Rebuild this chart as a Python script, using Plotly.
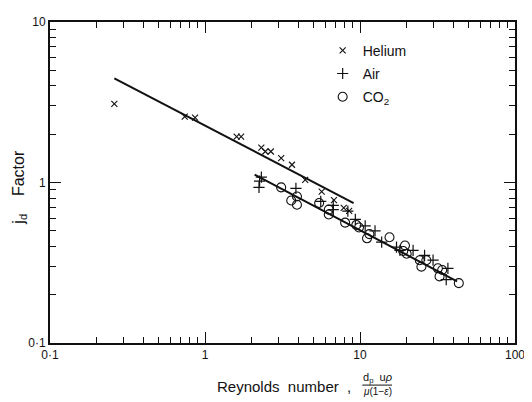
import plotly.graph_objects as go

# ---------------- data ----------------
re_helium = [0.26, 0.74, 0.863, 1.60, 1.71, 2.31, 2.45, 2.66, 3.10, 3.64, 4.43, 5.66, 6.79, 7.85, 8.51]
jd_helium = [3.09, 2.57, 2.54, 1.93, 1.93, 1.65, 1.56, 1.56, 1.42, 1.29, 1.04, 0.878, 0.777, 0.694, 0.666]

re_air = [2.31, 2.25, 2.23, 3.86, 5.58, 6.72, 6.72, 8.35, 9.33, 10.8, 12.5, 13.8, 17.2, 18.1, 22.0, 26.1, 29.6, 36.9, 36.0]
jd_air = [1.08, 1.02, 0.932, 0.919, 0.763, 0.721, 0.678, 0.663, 0.589, 0.537, 0.50, 0.425, 0.396, 0.378, 0.378, 0.352, 0.328, 0.292, 0.248]

re_co2 = [3.10, 3.60, 3.92, 3.92, 5.45, 6.29, 6.29, 8.02, 9.47, 9.85, 11.5, 11.1, 15.5, 19.5, 19.0, 20.0, 24.3, 26.8, 24.9, 31.8, 33.9, 32.6, 43.4]
jd_co2 = [0.932, 0.773, 0.818, 0.727, 0.745, 0.678, 0.632, 0.562, 0.544, 0.524, 0.477, 0.449, 0.456, 0.405, 0.374, 0.360, 0.328, 0.328, 0.299, 0.292, 0.285, 0.260, 0.236]

# fitted lines (end points)
re_line_he = [0.26, 9.1]
jd_line_he = [4.45, 0.745]
re_line_gas = [2.09, 42.3]
jd_line_gas = [1.12, 0.242]

x_tickvals = [0.1, 1, 10, 100]
x_ticktext = ["0·1", "1", "10", "100"]
y_tickvals = [0.1, 1, 10]
y_ticktext = ["0·1", "1", "10"]
minor_vals = [m * d for d in (0.1, 1, 10) for m in range(2, 10)]

FONT = "Liberation Sans"
INK = "#111111"

# the page has an 8px body margin, so the figure is 8px smaller each way
W, H = 524, 394
PL, PR, PT, PB = 50, 519, 15, 343          # plot box in screen pixels
OFF = 8


def px(xs):
    return (xs - PL) / (PR - PL)


def py(ys):
    return (PB - ys) / (PB - PT)


fig = go.Figure()

fig.add_trace(go.Scatter(x=re_line_he, y=jd_line_he, mode="lines",
                         line=dict(color=INK, width=2), showlegend=False, hoverinfo="skip"))
fig.add_trace(go.Scatter(x=re_line_gas, y=jd_line_gas, mode="lines",
                         line=dict(color=INK, width=2), showlegend=False, hoverinfo="skip"))

fig.add_trace(go.Scatter(x=re_helium, y=jd_helium, mode="markers", name="Helium",
                         legendgroup="he",
                         marker=dict(symbol="x-thin", size=6, color=INK,
                                     line=dict(color=INK, width=1.1))))
fig.add_trace(go.Scatter(x=re_air, y=jd_air, mode="markers", name="Air",
                         legendgroup="air",
                         marker=dict(symbol="cross-thin", size=8, color=INK,
                                     line=dict(color=INK, width=1.2))))
fig.add_trace(go.Scatter(x=re_co2, y=jd_co2, mode="markers", name="CO<sub>2</sub>",
                         legendgroup="co2",
                         marker=dict(symbol="circle-open", size=9, color=INK,
                                     line=dict(color=INK, width=1.1))))

axis_common = dict(
    type="log", showgrid=False, zeroline=False,
    showline=True, linecolor=INK, linewidth=2, mirror="allticks",
    ticks="inside", ticklen=11, tickwidth=1, tickcolor=INK,
    tickfont=dict(family=FONT, size=12, color=INK),
    minor=dict(ticks="inside", ticklen=6, tickwidth=1, tickcolor=INK,
               tickvals=minor_vals, showgrid=False),
)

fig.update_xaxes(range=[-1, 2], tickvals=x_tickvals, ticktext=x_ticktext, **axis_common)
fig.update_yaxes(range=[-1, 1], tickvals=y_tickvals, ticktext=y_ticktext, **axis_common)


def ann(text, xs, ys, size, angle=0):
    return dict(text=text, x=px(xs), y=py(ys), xref="paper", yref="paper",
                xanchor="center", yanchor="middle", showarrow=False, textangle=angle,
                font=dict(family=FONT, size=size, color=INK))


annotations = [
    ann("Reynolds  number  ,", 286, 387, 15),
    ann("d<sub>p</sub>  u<i>ρ</i>", 380, 379, 11),
    ann("<i>μ</i>(1−<i>ε</i>)", 380, 393, 10),
    ann("j<sub>d</sub>    Factor", 19, 184, 16, -90),
]

shapes = [
    dict(type="line", xref="paper", yref="paper",
         x0=px(365), x1=px(395), y0=py(386), y1=py(386),
         line=dict(color=INK, width=1)),
]

fig.update_layout(
    width=W, height=H,
    margin=dict(l=PL - OFF, r=W - (PR - OFF), t=PT - OFF, b=H - (PB - OFF)),
    paper_bgcolor="white", plot_bgcolor="white",
    font=dict(family=FONT, color=INK),
    showlegend=True,
    legend=dict(x=px(345 - 20), y=py(28), xanchor="left", yanchor="top",
                bgcolor="rgba(0,0,0,0)", borderwidth=0,
                font=dict(family=FONT, size=14, color=INK),
                traceorder="grouped", tracegroupgap=2),
    annotations=annotations,
    shapes=shapes,
)

fig.write_html("out.html")
